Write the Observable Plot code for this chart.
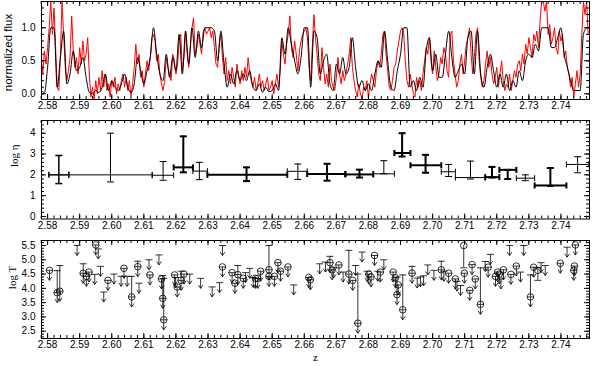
<!DOCTYPE html>
<html><head><meta charset="utf-8">
<script src="https://cdn.jsdelivr.net/npm/d3@7"></script>
<script src="https://cdn.jsdelivr.net/npm/@observablehq/plot@0.6"></script>
<style>
html,body{margin:0;padding:0;background:#fff;}
#chart{position:relative;width:594px;height:366px;overflow:hidden;background:#fff;}
#chart svg{display:block;}
</style>
</head><body><div id="chart"></div>
<script>
// ---------- data ----------
const zTicks = [2.58,2.59,2.60,2.61,2.62,2.63,2.64,2.65,2.66,2.67,2.68,2.69,2.70,2.71,2.72,2.73,2.74];
const fluxTicks = [0.0, 0.5, 1.0];
const etaTicks = [0, 1, 2, 3, 4];
const logTTicks = [2.5, 3.0, 3.5, 4.0, 4.5, 5.0, 5.5];

// spectra sampled on a regular z grid starting at fluxZ0
const fluxZ0 = 2.578;
const modelStep = 0.001;
const modelFlux = [
0.05,0.02,0.4,1.0,1.0,0.1,0.55,0.95,0.15,0.3,
0.65,0.35,0.4,0.55,0.25,0.02,0.0,0.05,0.02,0.1,
0.3,0.05,0.2,0.1,0.05,0.15,0.3,0.1,0.02,0.15,
0.55,0.35,0.15,0.35,0.55,1.0,0.6,0.3,0.2,0.6,
0.25,0.55,0.35,0.9,0.3,0.95,0.45,1.0,0.55,0.95,
0.7,1.0,1.0,1.0,0.95,0.5,0.95,0.45,0.1,0.3,
0.15,0.35,0.2,0.3,0.2,0.35,0.1,0.05,0.15,0.02,
0.1,0.03,0.05,0.15,0.05,0.85,0.6,1.0,
0.75,0.5,0.3,0.55,1.0,1.0,0.1,0.95,0.85,0.3,
0.5,0.6,0.15,0.05,0.45,0.3,0.55,0.3,0.4,0.85,
0.4,0.1,0.2,0.05,0.15,0.05,0.3,0.5,0.4,0.95,
0.5,0.1,0.05,0.35,0.6,1.0,1.0,0.1,0.2,0.05,
0.25,0.1,0.65,0.85,0.35,0.6,0.25,0.25,0.6,0.95,
0.55,0.25,0.35,0.45,0.3,0.85,0.95,0.3,0.95,0.3,
0.1,0.4,0.6,0.35,0.1,0.3,0.1,0.3,0.05,0.2,
0.1,0.35,0.2,0.5,0.6,0.55,0.75,0.65,1.0,1.0,
1.0,0.7,0.7,0.85,1.0,0.6,0.4,0.2,0.05,0.05,
0.05,0.9,1.0
];
const dataStep = 0.0005;
const dataFlux = [
0.55,0.3,0.65,0.45,0.7,1.0,1.4,0.9,1.3,0.7,
0.1,0.05,0.6,1.4,0.9,0.4,0.2,0.35,0.55,1.18,
0.65,0.4,0.55,0.3,0.7,0.45,0.8,0.5,0.6,0.85,
0.3,-0.05,0.1,-0.08,0.2,0.0,0.25,0.05,0.35,0.1,
0.3,0.05,0.15,-0.05,0.2,0.1,0.25,0.0,0.15,0.05,
0.2,0.3,0.1,0.25,0.05,0.2,-0.03,0.15,0.4,0.75,
0.45,0.6,0.25,0.35,0.1,0.3,0.5,0.35,0.55,0.85,
0.9,0.8,0.5,0.6,0.3,0.15,0.05,0.2,0.55,0.4,
0.3,0.2,0.6,0.5,0.3,0.45,0.8,0.9,0.35,0.55,
0.95,0.6,0.4,0.7,1.0,1.15,0.6,0.7,0.9,0.75,
0.6,0.95,1.0,0.9,0.95,1.0,0.85,0.95,0.7,0.45,
0.4,0.75,0.9,0.55,0.3,0.55,0.2,0.35,0.15,0.4,
0.25,0.1,0.45,0.3,0.15,0.35,0.2,0.4,0.25,0.55,
0.3,0.2,0.1,0.25,0.05,0.15,0.3,0.1,0.2,0.05,
0.15,0.25,0.05,0.1,0.2,0.0,0.15,0.3,0.1,0.35,
0.8,0.6,0.45,0.75,0.9,1.18,0.7,0.55,0.8,0.6,
0.35,0.65,0.8,0.9,0.95,1.0,0.85,0.4,0.2,0.7,
1.2,0.85,0.6,0.3,0.2,0.7,0.4,0.15,0.3,0.1,
0.45,0.2,0.1,0.05,0.25,0.55,0.3,0.15,0.35,0.2,
0.3,0.45,0.6,0.85,0.4,0.2,0.05,-0.05,0.15,0.0,
-0.08,0.1,0.05,0.2,-0.06,0.15,0.3,0.2,0.1,0.35,
0.5,0.4,0.6,0.9,0.95,0.6,0.35,0.1,0.05,0.2,
0.4,0.45,0.65,0.8,0.95,1.0,0.9,0.5,0.2,0.1,
0.3,0.15,0.0,-0.05,0.25,0.1,0.2,0.05,0.3,0.5,
0.7,0.6,0.85,0.5,0.3,0.65,0.4,0.2,0.3,0.55,
0.45,0.7,0.6,0.35,0.25,0.9,0.95,0.5,0.3,0.1,
0.2,0.45,0.6,0.3,0.5,0.75,0.85,1.0,0.6,0.3,
0.55,0.9,1.0,0.5,0.25,0.1,0.2,0.45,0.65,0.4,
0.55,0.3,0.15,0.25,0.4,0.1,0.3,0.5,0.2,0.05,
0.15,0.1,0.3,0.05,0.2,0.35,0.25,0.45,0.5,0.35,
0.6,0.45,0.75,0.6,0.85,0.7,0.55,0.9,0.8,0.95,
0.7,1.1,1.4,1.4,1.25,1.4,0.9,1.05,0.75,0.85,
1.0,0.7,0.6,0.95,0.8,0.9,0.55,0.65,0.4,0.3,
0.1,0.25,-0.05,0.15,0.35,0.1,0.3,0.9,1.4,1.2,
1.4,0.9
];

// log eta: z-range of each bin, centre, value, error range, line weight
const etaZlo = [2.5804,2.5866,2.6126,2.6193,2.6253,2.6298,2.6547,2.6609,2.6728,2.6815,2.6881,2.6931,2.7027,2.7071,2.7164,2.7208,2.7261,2.7318,2.7417];
const etaZhi = [2.5866,2.6126,2.6193,2.6253,2.6298,2.6547,2.6609,2.6728,2.6815,2.6881,2.6931,2.7027,2.7071,2.7164,2.7208,2.7261,2.7318,2.7417,2.7487];
const etaZ   = [2.5835,2.5996,2.6160,2.6223,2.6273,2.6420,2.6580,2.6671,2.6772,2.6848,2.6905,2.6978,2.7050,2.7118,2.7185,2.7234,2.7289,2.7367,2.7452];
const etaV   = [2.00,2.00,1.98,2.36,2.18,2.00,2.17,2.04,2.02,2.05,3.05,2.46,2.15,1.87,1.89,2.24,1.84,1.49,2.50];
const etaLo  = [1.58,1.66,1.74,2.12,1.77,1.70,1.78,1.72,1.87,2.05,2.88,2.10,1.92,1.80,1.87,1.80,1.72,1.47,2.10];
const etaHi  = [2.93,4.00,2.64,3.85,2.60,2.36,2.52,2.53,2.25,2.68,4.00,2.96,2.50,2.66,2.38,2.24,2.00,2.33,2.87];
const etaW   = [1.5,1,1,2,1,2,1,2,2,1,2,2,1,1,2,2,1,2,1];

// log T: kind c = circle + limit arrow, u = limit arrow only, d = circle only
const tZ = [2.5806,2.5830,2.5838,2.5892,2.5911,2.5921,2.5929,2.5947,2.5950,2.5958,2.5965,2.5975,2.5988,2.6007,2.6029,2.6038,2.6048,2.6062,2.6081,2.6085,
2.6116,2.6119,2.6147,2.6155,2.6159,2.6162,2.6196,2.6199,2.6204,2.6216,2.6225,2.6243,2.6277,2.6313,2.6336,2.6345,2.6345,2.6375,2.6384,2.6393,
2.6410,2.6417,2.6430,2.6441,2.6448,2.6455,2.6464,2.6490,2.6490,2.6507,2.6518,2.6526,2.6549,2.6567,2.6614,2.6619,2.6648,2.6666,2.6680,2.6687,
2.6692,2.6708,2.6721,2.6739,2.6751,2.6760,2.6767,2.6780,2.6796,2.6801,2.6808,2.6819,2.6829,2.6837,2.6848,2.6877,2.6884,2.6889,2.6893,2.6907,
2.6936,2.6952,2.6962,2.6972,2.6985,2.7004,2.7027,2.7035,2.7050,2.7071,2.7076,2.7087,2.7097,2.7099,2.7116,2.7123,2.7133,2.7149,2.7164,2.7173,
2.7180,2.7196,2.7203,2.7208,2.7213,2.7221,2.7240,2.7244,2.7261,2.7274,2.7284,2.7305,2.7315,2.7328,2.7338,2.7351,2.7398,2.7419,2.7440,2.7442,2.7445];
const tV = [4.63,3.85,3.90,5.50,4.53,4.42,4.57,4.49,5.52,5.38,4.77,3.87,4.28,4.50,4.42,4.70,4.42,3.70,4.76,4.18,
5.00,4.47,5.17,4.33,3.65,2.90,4.47,4.38,4.05,4.28,4.50,4.50,4.35,4.05,4.20,5.50,4.75,4.55,4.18,4.48,
4.35,4.55,4.70,4.38,4.35,4.35,4.60,4.65,4.42,4.42,4.90,4.60,4.75,4.12,4.38,4.30,4.86,4.92,4.90,4.65,
4.72,4.82,4.57,4.50,4.28,4.80,2.78,5.27,4.60,4.50,4.40,5.15,4.60,4.57,5.00,4.57,4.37,3.78,4.12,3.25,
4.53,4.36,4.40,4.44,4.82,4.63,4.65,4.60,4.53,4.33,4.25,4.10,5.50,4.53,3.93,4.83,4.33,3.44,4.94,4.74,
5.19,4.42,4.57,4.50,4.33,4.65,5.50,4.49,4.78,4.57,5.50,3.70,4.74,4.63,4.90,4.80,4.88,5.44,4.63,4.78,5.52];
const tHi = [null,4.62,4.80,null,4.86,null,null,null,null,null,null,null,null,null,null,null,null,4.42,4.95,null,
null,null,null,null,4.45,4.35,null,null,null,4.60,null,null,null,null,null,null,null,null,null,4.80,
null,null,null,null,null,null,null,5.50,null,null,null,null,null,null,null,null,null,null,5.12,null,
null,null,null,5.33,null,null,4.50,null,null,null,null,null,null,null,null,null,null,4.40,null,4.47,
4.77,null,null,null,null,null,4.95,null,null,null,null,null,null,null,null,null,null,4.72,null,null,
null,null,null,null,null,null,null,null,null,null,null,4.47,null,4.72,null,null,null,null,null,null,null];
const tLo = [null,null,null,null,null,null,null,null,null,null,null,null,null,null,null,null,null,null,null,null,
null,null,null,null,null,null,null,null,null,null,null,null,null,null,null,null,null,null,null,null,
null,null,null,null,null,null,null,null,null,null,null,null,null,null,null,null,null,null,null,null,
null,null,null,null,null,null,null,null,null,null,null,null,null,null,null,null,null,null,null,null,
null,null,null,null,null,null,null,null,null,null,null,null,4.72,null,null,null,null,null,null,null,
null,null,null,null,null,null,null,null,null,null,null,null,null,4.28,null,null,null,null,null,null,null];
const tKind = ["c","c","c","u","c","c","c","u","c","u","u","u","c","u","u","c","u","c","c","u",
"u","c","u","c","c","c","c","u","c","c","c","u","u","u","u","u","c","c","c","c",
"c","u","u","u","c","c","c","c","c","c","c","c","c","u","c","c","u","u","c","c",
"u","c","u","c","c","u","c","u","u","c","c","c","u","c","u","c","c","c","c","c",
"c","u","u","u","u","u","c","u","c","c","u","u","d","c","c","c","c","c","u","c",
"u","c","c","c","u","c","u","c","c","u","u","c","c","d","u","u","c","u","c","c","c"];

// ---------- layout ----------
const W = 594, ML = 41, MR = 5;
const xDomain = [2.5781, 2.7489];
const zMinor = d3.range(2.578, 2.7489, 0.002);
const SANS = '"Liberation Sans", Arial, Helvetica, sans-serif';
const SERIF = '"Liberation Serif", "Times New Roman", serif';

const hCap = {draw(c){ c.moveTo(-3.5,0); c.lineTo(3.5,0); }};
const vCap = {draw(c){ c.moveTo(0,-3); c.lineTo(0,3); }};
const arrowDown = {draw(c){ c.moveTo(0,0); c.lineTo(0,10); c.moveTo(-2.3,6.6); c.lineTo(0,10); c.lineTo(2.3,6.6); }};

function panel({height, mt, mb, yDomain, yMajor, yMinor, yFmt, marks, title, titleFont, titleSize, titleDx, titleDy, extra = []}) {
  const fh = height - mt - mb, fw = W - ML - MR;
  return Plot.plot({
    width: W, height, marginLeft: ML, marginRight: MR, marginTop: mt, marginBottom: mb,
    x: {domain: xDomain, axis: null},
    y: {domain: yDomain, axis: null},
    style: {fontFamily: SANS, fontSize: "10px", background: "white", overflow: "visible", color: "black"},
    marks: [
      ...marks,
      Plot.frame({stroke: "black", strokeWidth: 1}),
      Plot.tickX(zTicks, {x: d => d, insetTop: fh - 5, stroke: "black"}),
      Plot.tickX(zTicks, {x: d => d, insetBottom: fh - 5, stroke: "black"}),
      Plot.tickX(zMinor, {x: d => d, insetTop: fh - 3, stroke: "black"}),
      Plot.tickX(zMinor, {x: d => d, insetBottom: fh - 3, stroke: "black"}),
      Plot.tickY(yMajor, {y: d => d, insetRight: fw - 5, stroke: "black"}),
      Plot.tickY(yMajor, {y: d => d, insetLeft: fw - 5, stroke: "black"}),
      Plot.tickY(yMinor, {y: d => d, insetRight: fw - 3, stroke: "black"}),
      Plot.tickY(yMinor, {y: d => d, insetLeft: fw - 3, stroke: "black"}),
      Plot.text(zTicks, {x: d => d, frameAnchor: "bottom", dy: 9.5, text: d => d.toFixed(2), fill: "black"}),
      Plot.text(yMajor, {y: d => d, frameAnchor: "left", dx: -6, textAnchor: "end", text: yFmt, fill: "black"}),
      Plot.text([title], {frameAnchor: "left", textAnchor: "middle", lineAnchor: "middle", dx: titleDx, dy: titleDy, rotate: -90, fontSize: titleSize, fontFamily: titleFont, fill: "black"}),
      ...extra
    ]
  });
}

// ---------- panel 1: spectra ----------
const model = modelFlux.map((f, i) => ({z: fluxZ0 + i * modelStep, f}));
const obs = dataFlux.map((f, i) => ({z: fluxZ0 + i * dataStep, f}));
const p1 = panel({
  height: 114, mt: 1, mb: 15, yDomain: [-0.086, 1.398],
  yMajor: fluxTicks, yMinor: d3.range(0, 1.35, 0.1), yFmt: d => d.toFixed(1),
  title: "normalized flux", titleFont: SANS, titleSize: 11.5, titleDx: -33, titleDy: 2,
  marks: [
    Plot.line(obs, {x: "z", y: "f", stroke: "#ff0000", strokeWidth: 1, clip: true}),
    Plot.line(model, {x: "z", y: "f", stroke: "black", strokeWidth: 1, curve: "monotone-x", clip: true})
  ]
});

// ---------- panel 2: log eta ----------
const eta = etaZ.map((z, i) => ({z, lo: etaZlo[i], hi: etaZhi[i], v: etaV[i], elo: etaLo[i], ehi: etaHi[i], w: etaW[i]}));
const p2 = panel({
  height: 122, mt: 6, mb: 17.5, yDomain: [-0.12, 4.61],
  yMajor: etaTicks, yMinor: d3.range(0, 4.61, 0.2), yFmt: d => String(d),
  title: "log η", titleFont: SERIF, titleSize: 11, titleDx: -27, titleDy: -14,
  marks: [
    Plot.ruleY(eta, {y: "v", x1: "lo", x2: "hi", strokeWidth: "w", stroke: "black"}),
    Plot.ruleX(eta, {x: "z", y1: "elo", y2: "ehi", strokeWidth: "w", stroke: "black"}),
    Plot.dot(eta, {x: "lo", y: "v", symbol: vCap, stroke: "black", fill: "none", strokeWidth: "w"}),
    Plot.dot(eta, {x: "hi", y: "v", symbol: vCap, stroke: "black", fill: "none", strokeWidth: "w"}),
    Plot.dot(eta, {x: "z", y: "elo", symbol: hCap, stroke: "black", fill: "none", strokeWidth: "w"}),
    Plot.dot(eta, {x: "z", y: "ehi", symbol: hCap, stroke: "black", fill: "none", strokeWidth: "w"})
  ]
});

// ---------- panel 3: log T ----------
const T = tZ.map((z, i) => ({z, v: tV[i], hi: tHi[i], lo: tLo[i], k: tKind[i]}));
const withHi = T.filter(d => d.hi != null);
const withLo = T.filter(d => d.lo != null);
const limits = T.filter(d => d.k !== "d");
const circles = T.filter(d => d.k !== "u");
const p3 = panel({
  height: 130, mt: 4, mb: 28, yDomain: [2.245, 5.675],
  yMajor: logTTicks, yMinor: d3.range(2.3, 5.65, 0.1), yFmt: d => d.toFixed(1),
  title: "log T", titleFont: SERIF, titleSize: 11, titleDx: -29, titleDy: -12,
  marks: [
    Plot.ruleX(withHi, {x: "z", y1: "v", y2: "hi", stroke: "black", strokeWidth: 0.8}),
    Plot.dot(withHi, {x: "z", y: "hi", symbol: hCap, stroke: "black", fill: "none", strokeWidth: 0.8}),
    Plot.ruleX(withLo, {x: "z", y1: "lo", y2: "v", stroke: "black", strokeWidth: 0.8}),
    Plot.dot(withLo, {x: "z", y: "lo", symbol: hCap, stroke: "black", fill: "none", strokeWidth: 0.8}),
    Plot.dot(limits, {x: "z", y: "v", symbol: hCap, stroke: "black", fill: "none", strokeWidth: 0.8}),
    Plot.dot(limits, {x: "z", y: "v", symbol: arrowDown, stroke: "black", fill: "none", strokeWidth: 0.8}),
    Plot.dot(circles, {x: "z", y: "v", r: 3.3, stroke: "black", fill: "none", strokeWidth: 0.8})
  ],
  extra: [Plot.text(["z"], {frameAnchor: "bottom", dy: 22, fontSize: 11, fontFamily: SERIF, fill: "black"})]
});

const chart = document.getElementById("chart");
chart.append(p1, p2, p3);
</script>
</body></html>
